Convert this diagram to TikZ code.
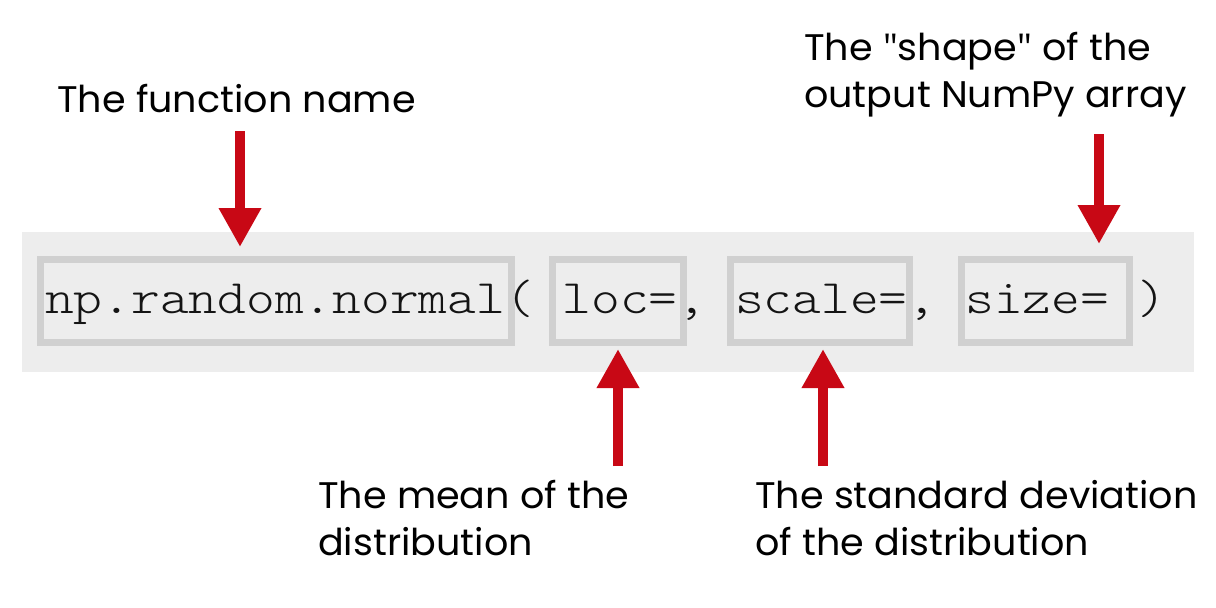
\documentclass[tikz,border=0pt]{standalone}
\usepackage{fontspec}
\setmainfont{Poppins}[FakeStretch=1.03]
\newfontfamily\qfont{Open Sans}
\newfontfamily\codefont{Latin Modern Mono Light}[FakeStretch=1.141]
\usetikzlibrary{arrows.meta}
\definecolor{bandgray}{RGB}{237,237,237}
\definecolor{boxgray}{RGB}{208,208,208}
\definecolor{arrred}{RGB}{200,8,21}
\definecolor{codeink}{RGB}{20,20,20}
\tikzset{
  codebox/.style={draw=boxgray, line width=7pt, inner sep=0pt},
  codetext/.style={anchor=base west, inner sep=0pt, font=\codefont\fontsize{48}{48}\selectfont, text=codeink},
  lbl/.style={anchor=base west, inner sep=0pt, align=left, font=\fontsize{37}{47}\selectfont, text=black},
  redarrow/.style={draw=arrred, line width=10pt, -{Triangle[width=40pt,length=39pt]}},
}
\begin{document}
\begin{tikzpicture}[x=1pt,y=-1pt]
\useasboundingbox (0,0) rectangle (1216,608);
\fill[bandgray] (22,232) rectangle (1194,372);
% boxes
\node[codebox, minimum width=471pt, minimum height=83pt] (b1) at (276,301) {};
\node[codebox, minimum width=131pt, minimum height=83pt] (b2) at (618,301) {};
\node[codebox, minimum width=179pt, minimum height=83pt] (b3) at (820,301) {};
\node[codebox, minimum width=168pt, minimum height=83pt] (b4) at (1045.5,301) {};
% code text
\node[codetext] (code) at (45,313) {np.random.normal( loc=, scale=, size= )};
% labels
\node[lbl] (l1) at (57,112) {The function name};
\node[lbl] (l4) at (804,107) {The {\qfont\char"22}shape{\qfont\char"22} of the\\output NumPy array};
\node[lbl] (l2) at (318,555) {The mean of the\\distribution};
\node[lbl] (l3) at (755,555) {The standard deviation\\of the distribution};
% arrow ends
\coordinate (a1s) at (240,131);
\coordinate (a1e) at (240,247);
\coordinate (a4s) at (1099,134);
\coordinate (a4e) at (1099,244);
\coordinate (a2s) at (618,466);
\coordinate (a2e) at (618,349);
\coordinate (a3s) at (823,466);
\coordinate (a3e) at (823,349);
\draw[redarrow] (a1s) -- (a1e);
\draw[redarrow] (a4s) -- (a4e);
\draw[redarrow] (a2s) -- (a2e);
\draw[redarrow] (a3s) -- (a3e);
\end{tikzpicture}
\end{document}
